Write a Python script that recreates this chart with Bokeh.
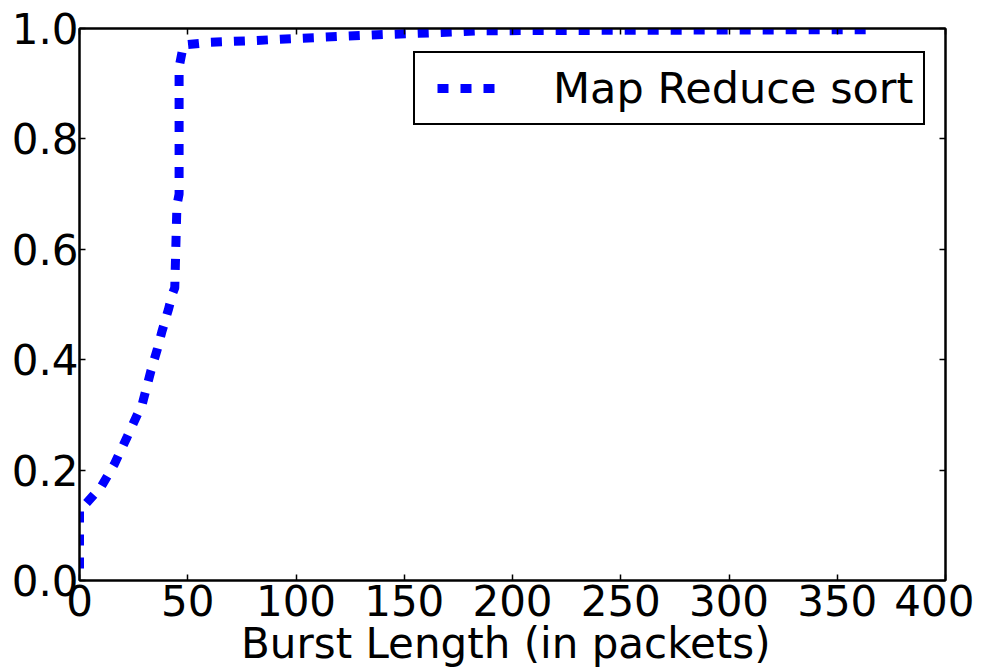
from bokeh.plotting import figure
from bokeh.models import (LinearAxis, FixedTicker, PrintfTickFormatter, CustomJSTickFormatter,
                          Range1d, Legend, LegendItem)
from bokeh.embed import file_html
from bokeh.resources import INLINE

# Data (CDF of burst length)
burst_len = [0, 0, 2, 10, 16, 22, 29, 33, 36, 38, 41, 43, 44, 45, 46, 46, 48, 60, 80, 100, 140, 175, 186, 368]
cdf = [0, 0.13, 0.135, 0.17, 0.21, 0.26, 0.32, 0.38, 0.42, 0.45, 0.49, 0.52, 0.53, 0.68, 0.70, 0.93,
       0.97, 0.975, 0.978, 0.982, 0.989, 0.994, 0.996, 0.998]
series_name = "Map Reduce sort"
x_ticks = [0, 50, 100, 150, 200, 250, 300, 350, 400]
y_ticks = [0.0, 0.2, 0.4, 0.6, 0.8, 1.0]
x_label = "Burst Length  (in packets)"

FONT = "DejaVu Sans"
FS = "42px"

p = figure(width=974, height=670, output_backend="svg", toolbar_location=None,
           x_range=Range1d(0, 400), y_range=Range1d(0, 1.0),
           min_border_left=79, min_border_right=29, min_border_top=28, min_border_bottom=90)
p.xgrid.visible = False
p.ygrid.visible = False
p.outline_line_color = "black"
p.outline_line_width = 2
p.background_fill_color = "white"
p.border_fill_color = "white"

r = p.line(burst_len, cdf, line_color="#0000ff", line_width=9, line_dash="11 12",
           line_dash_offset=11, line_cap="butt")

def style(ax, labels=True):
    ax.axis_line_color = "black"
    ax.axis_line_width = 2
    ax.major_tick_in = 6
    ax.major_tick_out = 0
    ax.major_tick_line_color = "black"
    ax.major_tick_line_width = 1.5
    ax.minor_tick_line_color = None
    ax.major_label_text_font = FONT
    ax.major_label_text_font_size = FS
    ax.major_label_text_color = "black"
    ax.major_label_standoff = 6
    if not labels:
        ax.formatter = CustomJSTickFormatter(code="return ''")
        ax.major_label_text_font_size = "1px"
        ax.major_label_standoff = 0

xa = p.xaxis[0]
xa.ticker = FixedTicker(ticks=x_ticks)
style(xa)
xa.major_label_standoff = 4
xa.axis_label = x_label
xa.axis_label_text_font = FONT
xa.axis_label_text_font_size = FS
xa.axis_label_text_font_style = "normal"
xa.axis_label_text_color = "black"
xa.axis_label_standoff = 0

ya = p.yaxis[0]
ya.ticker = FixedTicker(ticks=y_ticks)
ya.formatter = PrintfTickFormatter(format="%.1f")
style(ya)
ya.major_label_standoff = 1

ra = LinearAxis(ticker=FixedTicker(ticks=y_ticks))
style(ra, labels=False)
p.add_layout(ra, "right")
ta = LinearAxis(ticker=FixedTicker(ticks=x_ticks))
style(ta, labels=False)
p.add_layout(ta, "above")

legend = Legend(items=[LegendItem(label=series_name, renderers=[r])],
                location=(334, 455), margin=0, padding=10,
                glyph_width=80, glyph_height=40, label_standoff=48,
                label_text_font=FONT, label_text_font_size="43px", label_text_color="black",
                border_line_color="black", border_line_width=2, border_line_alpha=1.0,
                background_fill_color="white", background_fill_alpha=1.0)
p.add_layout(legend, "center")

open("out.html", "w").write(file_html(p, INLINE))
